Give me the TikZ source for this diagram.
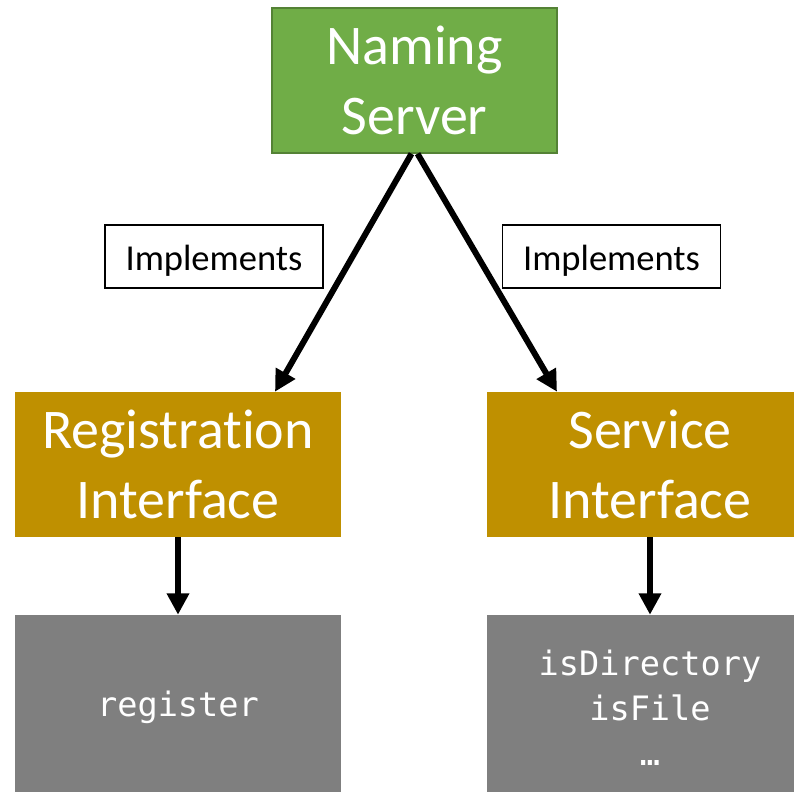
\documentclass[tikz,border=0pt]{standalone}
\usepackage{fontspec}
\setmainfont[Ligatures=NoCommon]{Carlito}
\newfontfamily\codefont{DejaVu Sans Mono}
\usetikzlibrary{arrows.meta,calc}
\definecolor{nsgreen}{HTML}{70AD47}
\definecolor{nsborder}{HTML}{548235}
\definecolor{ifgold}{HTML}{BF9000}
\definecolor{mgray}{HTML}{7F7F7F}
\tikzset{
  bigtext/.style={font=\fontsize{42}{52.5}\selectfont, text=white, align=center, inner sep=0pt},
  nsbox/.style={bigtext, rectangle, fill=nsgreen, draw=nsborder, line width=1.1pt, minimum width=213.75pt, minimum height=108.75pt},
  ifbox/.style={bigtext, rectangle, fill=ifgold, minimum width=244.5pt, minimum height=108.75pt},
  mbox/.style={rectangle, fill=mgray, text=white, align=center, inner sep=0pt, font=\codefont\fontsize{25.2}{33.75}\selectfont, minimum width=244.5pt, minimum height=138.75pt},
  impbox/.style={rectangle, draw=black, fill=white, line width=1.1pt, inner sep=0pt, minimum width=163.5pt, minimum height=47.25pt, text height=24pt, text depth=3pt, font=\fontsize{27.4}{33}\selectfont},
  arr/.style={line width=4.5pt, -{Triangle[length=16pt,width=16pt]}}
}
\begin{document}
\begin{tikzpicture}[x=0.75pt,y=-0.75pt]
\useasboundingbox (0,0) rectangle (794,792);
\clip (0,0) rectangle (794,792);
\node[nsbox] (ns) at (414.5,80.5) {Naming\\Server};
\node[ifbox] (ri) at (178,464.5) {Registrat\kern0pt ion\\Interface};
\node[ifbox] (si) at (650,464.5) {Service\\Interface};
\node[mbox] (rm) at (178,707.5) {register};
\node[mbox] (sm) at (650,707.5) {isDirectory\\isFile\\…};
\node[impbox] (i1) at (214,256.5) {Implements};
\node[impbox] (i2) at (611.5,256.5) {Implements};
\draw[arr] ($(ns.south)+(-3,0)$) -- ($(ri.north)+(97,0)$);
\draw[arr] ($(ns.south)+(3,0)$) -- ($(si.north)+(-93,0)$);
\draw[arr] (ri.south) -- (rm.north);
\draw[arr] (si.south) -- (sm.north);
\end{tikzpicture}
\end{document}
